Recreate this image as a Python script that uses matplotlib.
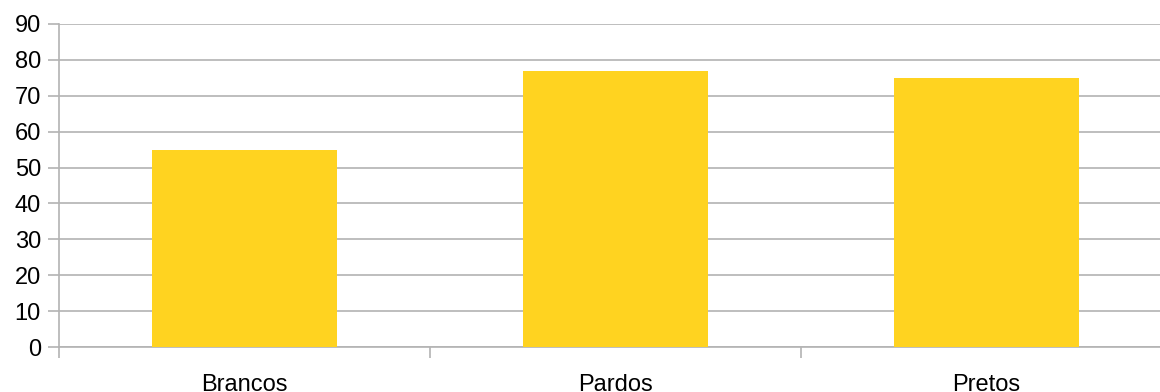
import matplotlib
matplotlib.use("Agg")
import matplotlib.pyplot as plt
import numpy as np

categories = ["Brancos", "Pardos", "Pretos"]
values = [55, 77, 75]
yticks = list(range(0, 100, 10))

plt.rcParams['font.family'] = ['Liberation Sans', 'DejaVu Sans']

W, H = 1160, 392
fig = plt.figure(figsize=(W/100, H/100), dpi=100)
left, right, top, bottom = 59, 1172, 24, 347
ax = fig.add_axes([left/W, 1-bottom/H, (right-left)/W, (bottom-top)/H])

x = np.arange(len(categories))
ax.bar(x, values, width=0.5, color="#FFD320", zorder=3)
ax.set_xlim(-0.5, len(categories)-0.5)
ax.set_ylim(0, 90)
ax.set_yticks(yticks)
ax.yaxis.grid(True, color="#b3b3b3", linewidth=1.2, zorder=0)
ax.set_axisbelow(True)

for s in ["top", "right"]:
    ax.spines[s].set_visible(False)
for s in ["left", "bottom"]:
    ax.spines[s].set_color("#b3b3b3")
    ax.spines[s].set_linewidth(1.2)

ax.set_xticks(x)
ax.set_xticklabels(categories)
ax.set_xticks(np.arange(-0.5, len(categories)), minor=True)
ax.tick_params(axis="x", which="major", length=0, pad=19.5, labelsize=17, labelcolor="#000000")
ax.tick_params(axis="x", which="minor", length=8, color="#b3b3b3", width=1.2)
ax.tick_params(axis="y", length=8, color="#b3b3b3", width=1.2, pad=5, labelsize=17, labelcolor="#000000")

fig.savefig("out.png", dpi=100)
